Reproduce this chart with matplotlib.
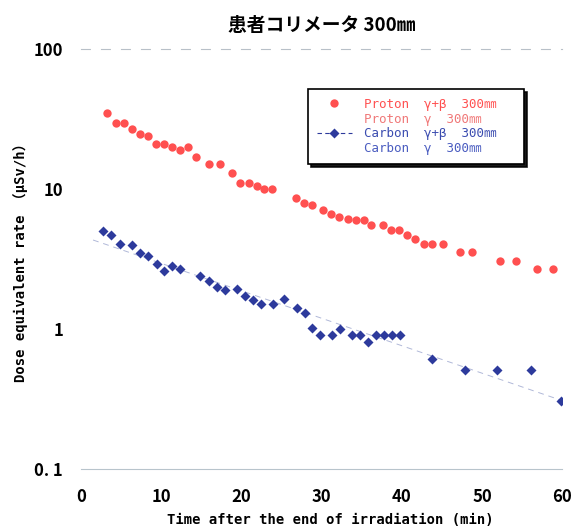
import numpy as np
import matplotlib
matplotlib.use("Agg")
import matplotlib.pyplot as plt

plt.rcParams['font.family'] = ['Noto Sans CJK JP', 'DejaVu Sans']
mono = ['DejaVu Sans Mono', 'Noto Sans CJK JP']
narrow = ['Liberation Sans Narrow', 'Noto Sans CJK JP', 'DejaVu Sans']

# Proton, gamma + beta, 300 mm
proton_t = [3.3, 4.3, 5.3, 6.3, 7.4, 8.4, 9.4, 10.4, 11.4, 12.3, 13.3, 14.3,
            15.9, 17.3, 18.8, 19.8, 20.9, 21.9, 22.8, 23.8, 26.8, 27.8, 28.8,
            30.2, 31.2, 32.2, 33.3, 34.3, 35.3, 36.2, 37.7, 38.7, 39.7, 40.7,
            41.7, 42.8, 43.8, 45.2, 47.3, 48.7, 52.2, 54.3, 56.9, 58.9]
proton_v = [34.9, 29.7, 29.7, 26.8, 24.8, 23.9, 21.0, 21.0, 20.0, 18.9, 20.0, 17.0,
            15.1, 15.1, 13.1, 11.0, 11.0, 10.5, 10.0, 10.0, 8.6, 7.9, 7.7,
            7.08, 6.6, 6.28, 6.1, 5.97, 6.0, 5.56, 5.56, 5.07, 5.1, 4.67,
            4.37, 4.07, 4.07, 4.07, 3.57, 3.57, 3.07, 3.07, 2.67, 2.67]

# Carbon, gamma + beta, 300 mm
carbon_t = [2.8, 3.8, 4.9, 6.3, 7.4, 8.4, 9.5, 10.4, 11.4, 12.4, 14.9, 15.9,
            16.9, 17.9, 19.4, 20.4, 21.4, 22.4, 23.9, 25.3, 26.9, 27.9, 28.8,
            29.8, 31.3, 32.3, 33.8, 34.8, 35.8, 36.8, 37.8, 38.8, 39.8, 43.8,
            47.9, 51.9, 56.1, 59.9]
carbon_v = [5.0, 4.69, 4.07, 3.98, 3.49, 3.32, 2.91, 2.58, 2.8, 2.7, 2.4, 2.21,
            2.0, 1.91, 1.92, 1.71, 1.62, 1.52, 1.52, 1.64, 1.41, 1.31, 1.01,
            0.91, 0.91, 1.0, 0.91, 0.91, 0.81, 0.91, 0.91, 0.91, 0.91, 0.61,
            0.51, 0.51, 0.51, 0.306]

x_ticks = [0, 10, 20, 30, 40, 50, 60]
y_ticks = [0.1, 1, 10, 100]
y_ticklabels = ['0. 1', '1', '10', '100']

red = '#ff5050'
blue = '#2d3a9c'

fig = plt.figure(figsize=(5.73, 5.26), dpi=100)
ax = fig.add_axes([0.1414, 0.1084, 0.8396, 0.7984])

ax.plot(proton_t, proton_v, 'o', color=red, ms=6, mec='none',
        label='Proton  γ+β  300㎜')
ax.plot([], [], ls='none', label='Proton  γ  300㎜')

# exponential trend through the carbon points
k, b = np.polyfit(carbon_t, np.log10(carbon_v), 1)
tt = np.array([1.5, 60])
ax.plot(tt, 10 ** (k * tt + b), ls=(0, (6, 5)), color='#b0b8d8', lw=0.7, zorder=1)
ax.plot(carbon_t, carbon_v, 'D', color=blue, ms=5.2, mec='none', zorder=3)
ax.plot([], [], 'D-', color=blue, ms=5.2, mec='none', ls=(0, (4, 3)), lw=0.8,
        label='Carbon  γ+β  300㎜')
ax.plot([], [], ls='none', label='Carbon  γ  300㎜')

ax.set_yscale('log')
ax.set_xlim(0, 60)
ax.set_ylim(0.1, 100)
ax.set_xticks(x_ticks)
ax.set_yticks(y_ticks)
ax.set_yticklabels(y_ticklabels)
ax.minorticks_off()
ax.tick_params(length=0, labelsize=12)
ax.tick_params(axis='x', pad=14)
ax.tick_params(axis='y', pad=13)
for lab in ax.get_xticklabels() + ax.get_yticklabels():
    lab.set_fontweight('bold')
    lab.set_family(narrow)

for side in ['left', 'right']:
    ax.spines[side].set_visible(False)
ax.spines['top'].set_color('#b8c0c8')
ax.spines['top'].set_linestyle((0, (8, 10)))
ax.spines['top'].set_linewidth(0.8)
ax.spines['bottom'].set_color('#b8c4cc')
ax.spines['bottom'].set_linewidth(0.8)

ax.set_title('患者コリメータ 300㎜', fontsize=13.5, fontweight='bold', pad=13)
ax.set_xlabel('Time after the end of irradiation (min)', fontsize=10,
              family=mono, fontweight='bold')
ax.xaxis.set_label_coords(0.518, -0.104)
ax.set_ylabel('Dose equivalent rate （μSv/h）', fontsize=10,
              family=mono, fontweight='bold')
ax.yaxis.set_label_coords(-0.11, 0.5)

leg = ax.legend(loc='upper left', bbox_to_anchor=(0.472, 0.721, 0.449, 0.184),
                mode='expand', borderaxespad=0,
                prop={'family': mono, 'size': 9},
                frameon=True, fancybox=False,
                edgecolor='black', shadow={'color': 'black', 'alpha': 0.9},
                labelcolor=[red, '#f07878', '#3b4cb0', '#4a5cc0'],
                handlelength=2.8, labelspacing=0.15, borderpad=0.7,
                handletextpad=1.0)
leg.get_frame().set_linewidth(1.2)

fig.savefig('out.png', dpi=100)
